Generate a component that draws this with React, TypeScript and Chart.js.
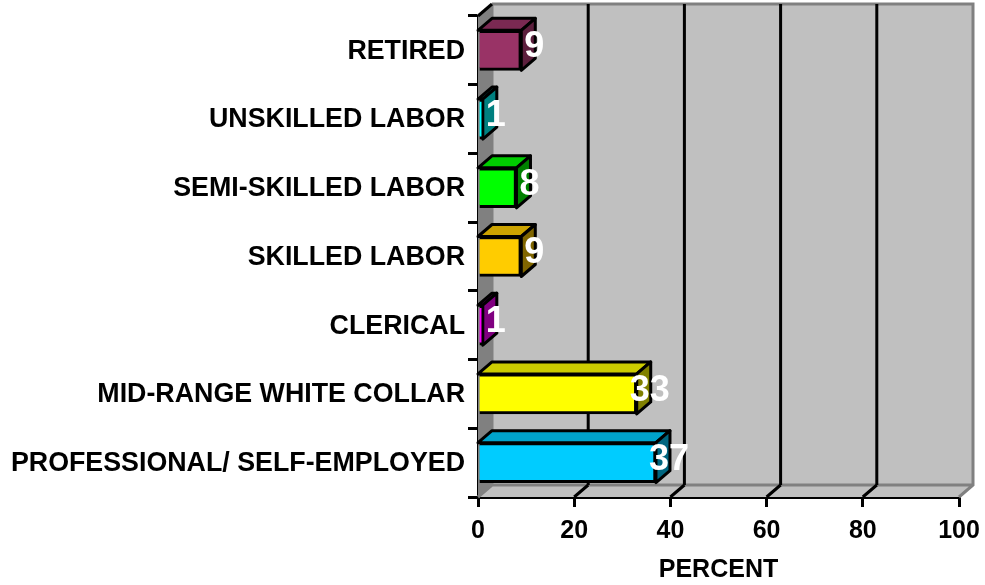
import React, { useEffect, useRef } from "react";
import { Chart, registerables } from "chart.js";

Chart.register(...registerables);

const categories = [
  "RETIRED",
  "UNSKILLED LABOR",
  "SEMI-SKILLED LABOR",
  "SKILLED LABOR",
  "CLERICAL",
  "MID-RANGE WHITE COLLAR",
  "PROFESSIONAL/ SELF-EMPLOYED",
];
const percents = [9, 1, 8, 9, 1, 33, 37];
const frontColors = ["#993366", "#00FFFF", "#00FF00", "#FFCC00", "#FF00FF", "#FFFF00", "#00CCFF"];
const topColors = ["#7A2952", "#00CCCC", "#00CC00", "#CCA300", "#CC00CC", "#CCCC00", "#00A3CC"];
const sideColors = ["#5C1F3D", "#008080", "#008000", "#806600", "#800080", "#808000", "#006680"];
const xTicks = [0, 20, 40, 60, 80, 100];

const FONT = '"Liberation Sans", Arial, sans-serif';
const DX = 14;
const DY = -12;

const depthPlugin = {
  id: "depth",
  beforeDatasetsDraw(chart: any) {
    const { ctx, chartArea: a, scales } = chart;
    const x = scales.x;
    ctx.save();
    ctx.fillStyle = "#C0C0C0";
    ctx.strokeStyle = "#808080";
    ctx.lineWidth = 3;
    ctx.fillRect(a.left + DX, a.top + DY, a.width, a.height);
    // left wall
    ctx.beginPath();
    ctx.moveTo(a.left, a.top);
    ctx.lineTo(a.left + DX, a.top + DY);
    ctx.lineTo(a.left + DX, a.bottom + DY);
    ctx.lineTo(a.left, a.bottom);
    ctx.closePath();
    ctx.fillStyle = "#808080";
    ctx.fill();
    // floor
    ctx.beginPath();
    ctx.moveTo(a.left, a.bottom);
    ctx.lineTo(a.left + DX, a.bottom + DY);
    ctx.lineTo(a.right + DX, a.bottom + DY);
    ctx.lineTo(a.right, a.bottom);
    ctx.closePath();
    ctx.fillStyle = "#C0C0C0";
    ctx.fill();
    // wall outlines
    ctx.beginPath();
    ctx.moveTo(a.left + DX, a.top + DY);
    ctx.lineTo(a.right + DX, a.top + DY);
    ctx.lineTo(a.right + DX, a.bottom + DY);
    ctx.lineTo(a.right, a.bottom);
    ctx.moveTo(a.right + DX, a.bottom + DY);
    ctx.lineTo(a.left + DX, a.bottom + DY);
    ctx.lineTo(a.left, a.bottom);
    ctx.moveTo(a.left + DX, a.bottom + DY);
    ctx.lineTo(a.left + DX, a.top + DY);
    ctx.stroke();
    // gridlines on wall and floor
    ctx.strokeStyle = "#000000";
    xTicks.forEach((t) => {
      if (t === 0 || t === 100) return;
      const px = x.getPixelForValue(t);
      ctx.beginPath();
      ctx.moveTo(px + DX, a.top + DY);
      ctx.lineTo(px + DX, a.bottom + DY);
      ctx.moveTo(px, a.bottom);
      ctx.lineTo(px + DX, a.bottom + DY);
      ctx.stroke();
    });
    ctx.beginPath();
    ctx.moveTo(a.left, a.top);
    ctx.lineTo(a.left + DX, a.top + DY);
    ctx.stroke();
    // bar depth faces
    const meta = chart.getDatasetMeta(0);
    ctx.lineJoin = "round";
    meta.data.forEach((bar: any, i: number) => {
      const { x: bx, y: by, height: h } = bar.getProps(["x", "y", "height"]);
      const l = x.getPixelForValue(0);
      const t = by - h / 2;
      const b = by + h / 2;
      ctx.beginPath();
      ctx.moveTo(l, t);
      ctx.lineTo(l + DX, t + DY);
      ctx.lineTo(bx + DX, t + DY);
      ctx.lineTo(bx, t);
      ctx.closePath();
      ctx.fillStyle = topColors[i];
      ctx.fill();
      ctx.stroke();
      ctx.beginPath();
      ctx.moveTo(bx, t);
      ctx.lineTo(bx + DX, t + DY);
      ctx.lineTo(bx + DX, b + DY);
      ctx.lineTo(bx, b);
      ctx.closePath();
      ctx.fillStyle = sideColors[i];
      ctx.fill();
      ctx.stroke();
    });
    ctx.restore();
  },
  afterDatasetsDraw(chart: any) {
    const { ctx } = chart;
    const meta = chart.getDatasetMeta(0);
    ctx.save();
    ctx.fillStyle = "#FFFFFF";
    ctx.font = `bold 36px ${FONT}`;
    ctx.textAlign = "center";
    ctx.textBaseline = "middle";
    meta.data.forEach((bar: any, i: number) => {
      const { x: bx, y: by } = bar.getProps(["x", "y"]);
      ctx.fillText(String(percents[i]), bx + 13, by - 3);
    });
    ctx.restore();
  },
};

export default function App() {
  const ref = useRef<HTMLCanvasElement | null>(null);
  useEffect(() => {
    if (!ref.current) return;
    const chart = new Chart(ref.current, {
      type: "bar",
      plugins: [depthPlugin],
      data: {
        labels: categories,
        datasets: [
          {
            data: percents,
            backgroundColor: frontColors,
            borderColor: "#000000",
            borderWidth: 3,
            barThickness: 40,
          },
        ],
      },
      options: {
        indexAxis: "y",
        responsive: false,
        animation: false,
        layout: { autoPadding: false, padding: { left: 0, top: 16, right: 26, bottom: 0 } },
        plugins: { legend: { display: false }, tooltip: { enabled: false }, title: { display: false } },
        scales: {
          x: {
            min: 0,
            max: 100,
            afterFit(s: any) {
              s.height = 88;
              s.paddingRight = 0;
              s.paddingLeft = 0;
            },
            afterBuildTicks(s: any) {
              s.ticks = xTicks.map((value) => ({ value }));
            },
            grid: { display: true, drawOnChartArea: false, color: "#000", lineWidth: 3, tickLength: 10 },
            border: { color: "#000", width: 3 },
            title: {
              display: true,
              text: "PERCENT",
              color: "#000",
              padding: 0,
              font: { family: FONT, weight: "bold", size: 25 },
            },
            ticks: {
              color: "#000",
              maxRotation: 0,
              padding: 9,
              font: { family: FONT, weight: "bold", size: 25 },
            },
          },
          y: {
            afterFit(s: any) {
              s.width = 478;
              s.paddingTop = 0;
              s.paddingBottom = 0;
            },
            grid: { display: true, drawOnChartArea: false, offset: true, color: "#000", lineWidth: 3, tickLength: 10 },
            border: { color: "#000", width: 3 },
            ticks: {
              color: "#000",
              padding: 3,
              autoSkip: false,
              labelOffset: 1,
              font: { family: FONT, weight: "bold", size: 26.8 },
            },
          },
        },
      },
    } as any);
    return () => chart.destroy();
  }, []);
  return (
    <canvas
      ref={ref}
      width={985}
      height={585}
      style={{ position: "fixed", left: 0, top: 0, display: "block", width: 985, height: 585 }}
    />
  );
}
